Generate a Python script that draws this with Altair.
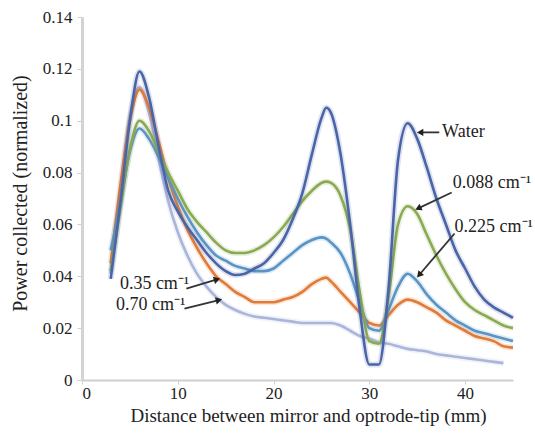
import math
import altair as alt
import pandas as pd

# ---- data ----
X = [3, 4, 5, 6, 7, 8, 9, 10, 11, 12, 13, 14, 15, 16, 17, 18, 19, 20, 21, 22, 23, 24,
     25, 25.5, 26, 27, 28, 29, 30, 31, 32, 33, 34, 35, 36, 37, 38, 39, 40, 41, 42, 43, 44, 45]

WATER = [0.039, 0.068, 0.100, 0.119, 0.109, 0.090, 0.073, 0.065, 0.059, 0.054, 0.049, 0.045,
         0.042, 0.0405, 0.041, 0.043, 0.045, 0.049, 0.054, 0.062, 0.072, 0.087, 0.101, 0.105,
         0.103, 0.087, 0.060, 0.027, 0.006, 0.006, 0.035, 0.085, 0.099, 0.093, 0.082, 0.070,
         0.060, 0.050, 0.043, 0.036, 0.031, 0.028, 0.026, 0.024]

S088 = [0.042, 0.066, 0.089, 0.100, 0.096, 0.088, 0.080, 0.073, 0.066, 0.061, 0.057, 0.053,
        0.050, 0.049, 0.049, 0.050, 0.052, 0.055, 0.059, 0.064, 0.069, 0.073, 0.076, 0.0765,
        0.076, 0.071, 0.058, 0.034, 0.015, 0.014, 0.032, 0.060, 0.067, 0.064, 0.056, 0.048,
        0.041, 0.035, 0.030, 0.027, 0.025, 0.023, 0.021, 0.020]

S225 = [0.050, 0.068, 0.088, 0.097, 0.093, 0.086, 0.078, 0.070, 0.063, 0.057, 0.052, 0.048,
        0.046, 0.044, 0.043, 0.042, 0.042, 0.043, 0.046, 0.049, 0.052, 0.054, 0.055, 0.0545,
        0.053, 0.049, 0.041, 0.030, 0.020, 0.019, 0.027, 0.036, 0.041, 0.038, 0.033, 0.029,
        0.026, 0.023, 0.021, 0.019, 0.018, 0.017, 0.016, 0.015]

S035 = [0.045, 0.075, 0.100, 0.112, 0.105, 0.092, 0.078, 0.067, 0.058, 0.051, 0.045, 0.040,
        0.037, 0.034, 0.032, 0.030, 0.030, 0.030, 0.031, 0.032, 0.034, 0.037, 0.039, 0.0395,
        0.038, 0.034, 0.030, 0.026, 0.022, 0.021, 0.025, 0.029, 0.031, 0.030, 0.028, 0.026,
        0.023, 0.021, 0.019, 0.017, 0.016, 0.015, 0.013, 0.0125]

S070 = [0.041, 0.072, 0.102, 0.113, 0.103, 0.085, 0.069, 0.057, 0.048, 0.041, 0.036, 0.032,
        0.029, 0.027, 0.0255, 0.0245, 0.024, 0.0235, 0.023, 0.0225, 0.022, 0.022, 0.022, 0.022,
        0.022, 0.021, 0.019, 0.017, 0.016, 0.0145, 0.014, 0.013, 0.012, 0.0115, 0.011, 0.010,
        0.0095, 0.009, 0.0085, 0.008, 0.0075, 0.007, 0.0065, None]

# draw order: bottom first, water on top
SERIES = ["0.70 cm⁻¹", "0.35 cm⁻¹", "0.225 cm⁻¹", "0.088 cm⁻¹", "Water"]
VALUES = [S070, S035, S225, S088, WATER]
COLORS = ["#aab5db", "#e07b39", "#5a94c4", "#8aaa52", "#4a64a8"]

# annotations: label, text pos, arrow tail, arrow head
ANN_TEXT = ["Water", "0.088 cm⁻¹", "0.225 cm⁻¹", "0.35 cm⁻¹", "0.70 cm⁻¹"]
ANN_TX = [37.6, 38.7, 38.9, 11.2, 10.8]
ANN_TY = [0.0955, 0.0758, 0.0589, 0.0372, 0.0288]
ANN_ALIGN = ["left", "left", "left", "right", "right"]
ARR_X1 = [37.3, 38.6, 38.9, 10.9, 10.7]
ARR_Y1 = [0.0955, 0.0723, 0.0565, 0.0352, 0.0275]
ARR_X2 = [35.3, 35.1, 35.2, 14.1, 14.3]
ARR_Y2 = [0.0955, 0.0662, 0.0405, 0.0388, 0.0308]

X_TICKS = [0, 10, 20, 30, 40]
Y_TICKS = [0, 0.02, 0.04, 0.06, 0.08, 0.1, 0.12, 0.14]

W, H = 431, 363
XMAX, YMAX = 45, 0.14
FONT = "Liberation Serif"

xs = alt.Scale(domain=[0, XMAX], nice=False, zero=False)
ys = alt.Scale(domain=[0, YMAX], nice=False)

x_axis = alt.Axis(values=X_TICKS, title="Distance between mirror and optrode-tip (mm)",
                  labelFont=FONT, labelFontSize=17, labelColor="#222", titleFont=FONT,
                  titleFontSize=19, titleFontWeight="normal", titleColor="#222",
                  domainColor="#cfcfcf", domainWidth=2, tickColor="#cfcfcf", tickSize=4,
                  grid=False, labelPadding=1, titleX=226, titleY=35,
                  titleAlign="center", titleBaseline="middle")
y_axis = alt.Axis(values=Y_TICKS, format="~g", title="Power collected (normalized)",
                  labelFont=FONT, labelFontSize=17, labelColor="#222", titleFont=FONT,
                  titleFontSize=20, titleFontWeight="normal", titleColor="#222",
                  domainColor="#d3d3d3", domainWidth=3, tickColor="#cfcfcf", tickSize=5,
                  grid=False, labelPadding=5, titleX=-62, titleY=176, titleAngle=270,
                  titleAlign="center", titleBaseline="middle")


def xe(field):
    return alt.X(field, scale=xs, axis=x_axis)


def ye(field):
    return alt.Y(field, scale=ys, axis=y_axis)


layers = []
for name, vals, col in zip(SERIES, VALUES, COLORS):
    df = pd.DataFrame({"x": X, "y": vals}).dropna()
    glow = alt.Chart(df).mark_line(color=col, strokeWidth=6, opacity=0.18,
                                   interpolate="monotone").encode(x=xe("x:Q"), y=ye("y:Q"))
    line = alt.Chart(df).mark_line(color=col, strokeWidth=2.6,
                                   interpolate="monotone").encode(x=xe("x:Q"), y=ye("y:Q"))
    layers += [glow, line]

arr = pd.DataFrame({"x1": ARR_X1, "y1": ARR_Y1, "x2": ARR_X2, "y2": ARR_Y2})
angles = []
for a, b, c, d in zip(ARR_X1, ARR_Y1, ARR_X2, ARR_Y2):
    dx = (c - a) * W / XMAX
    dy = -(d - b) * H / YMAX
    angles.append((math.degrees(math.atan2(dx, -dy)) + 360) % 360)
arr["angle"] = angles

rules = alt.Chart(arr).mark_rule(color="#333", strokeWidth=1.8).encode(
    x=xe("x1:Q"), y=ye("y1:Q"), x2="x2:Q", y2="y2:Q")
heads = alt.Chart(arr).mark_point(shape="triangle-up", filled=True, color="#222",
                                  size=55, opacity=1).encode(
    x=xe("x2:Q"), y=ye("y2:Q"), angle=alt.Angle("angle:Q", scale=None))
layers += [rules, heads]

ann = pd.DataFrame({"t": ANN_TEXT, "x": ANN_TX, "y": ANN_TY, "al": ANN_ALIGN})
for al in ["left", "right"]:
    layers.append(alt.Chart(ann[ann.al == al]).mark_text(
        align=al, baseline="middle", font=FONT, fontSize=18, color="#222").encode(
        x=xe("x:Q"), y=ye("y:Q"), text="t:N"))

chart = alt.layer(*layers).properties(
    width=W, height=H,
    autosize=alt.AutoSizeParams(type="none"),
    padding={"left": 82, "top": 17, "right": 22, "bottom": 53},
    background="white",
).configure_view(strokeWidth=0)

chart.save("out.html", embed_options={"renderer": "svg", "actions": False})
